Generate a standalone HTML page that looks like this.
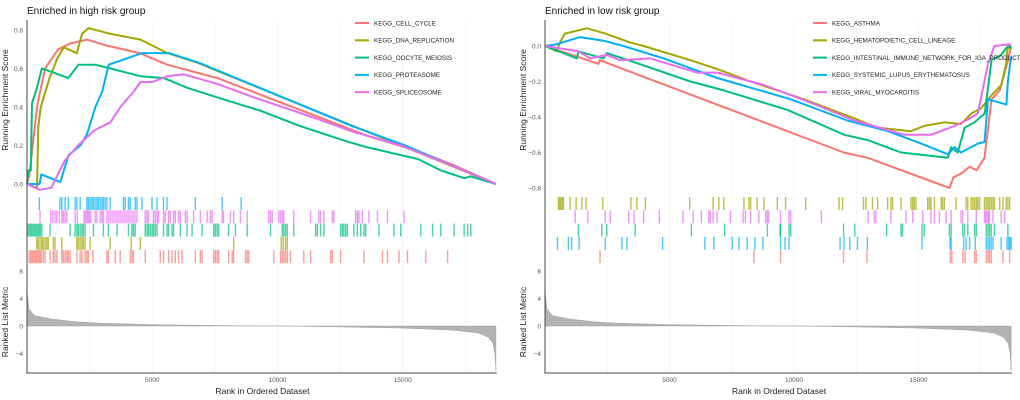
<!DOCTYPE html>
<html><head><meta charset="utf-8"><style>
html,body{margin:0;padding:0;background:#fff;}
svg{display:block;font-family:"Liberation Sans",sans-serif;}
</style></head><body>
<svg id="chart" width="1020" height="400" viewBox="0 0 1020 400" xmlns="http://www.w3.org/2000/svg"></svg>
<script>
// ---------- data (ranks in thousands) ----------
const leftNames = ["KEGG_CELL_CYCLE","KEGG_DNA_REPLICATION","KEGG_OOCYTE_MEIOSIS","KEGG_PROTEASOME","KEGG_SPLICEOSOME"];
const rightNames = ["KEGG_ASTHMA","KEGG_HEMATOPOIETIC_CELL_LINEAGE","KEGG_INTESTINAL_IMMUNE_NETWORK_FOR_IGA_PRODUCTION","KEGG_SYSTEMIC_LUPUS_ERYTHEMATOSUS","KEGG_VIRAL_MYOCARDITIS"];
const seriesColors = ["#F8766D","#A3A500","#00BF7D","#00B0F6","#E76BF3"];

const L_cell = [[0,0],[0.1,0.05],[0.4,0.4],[0.72,0.6],[1.25,0.7],[1.72,0.73],[2.4,0.75],[3.15,0.72],[4.5,0.68],[5.6,0.62],[7.6,0.55],[9.6,0.45],[11.6,0.35],[13.6,0.25],[15.6,0.17],[17,0.1],[18.72,0]];
const L_dna = [[0,0],[0.4,-0.02],[0.45,0.3],[0.55,0.4],[0.9,0.55],[1.2,0.65],[1.47,0.71],[1.99,0.68],[2.2,0.78],[2.45,0.81],[3.33,0.78],[4.53,0.75],[4.99,0.72],[5.6,0.68],[6.8,0.63],[18.72,0]];
const L_oocyte = [[0,0],[0.05,0.07],[0.15,0.07],[0.2,0.42],[0.4,0.5],[0.59,0.6],[1.05,0.58],[1.65,0.55],[2.05,0.62],[2.72,0.62],[3.33,0.6],[4.53,0.56],[5.46,0.55],[6.4,0.5],[7.6,0.45],[9.33,0.38],[10.93,0.3],[12.8,0.22],[13.6,0.19],[15.6,0.13],[16.53,0.07],[17.46,0.03],[17.7,0.04],[18.72,0]];
const L_prot = [[0,0],[0.5,0],[0.57,0.05],[1.33,0.01],[1.66,0.15],[2.13,0.2],[2.4,0.26],[2.73,0.4],[3.0,0.48],[3.26,0.62],[3.93,0.65],[4.6,0.68],[5.66,0.68],[6.86,0.63],[13,0.3],[15.1,0.2],[18.72,0]];
const L_splice = [[0,0],[0.5,-0.03],[0.97,-0.02],[1.5,0.12],[2.03,0.2],[2.7,0.28],[3.33,0.32],[3.73,0.4],[4.26,0.48],[4.53,0.53],[5.0,0.53],[5.6,0.56],[6.26,0.57],[7.6,0.52],[9.06,0.45],[11.33,0.35],[13.06,0.27],[14.93,0.2],[16.9,0.1],[18.72,0]];

const R_asthma = [[0,0],[2.15,-0.1],[2.2,-0.08],[12.0,-0.6],[12.96,-0.63],[16.25,-0.8],[16.4,-0.74],[16.7,-0.72],[17.06,-0.68],[17.33,-0.7],[17.65,-0.63],[17.72,-0.55],[17.93,-0.3],[18.26,-0.25],[18.6,-0.08],[18.72,0]];
const R_hemato = [[0,0],[0.47,-0.03],[0.6,0.02],[0.8,0.07],[1.68,0.1],[2.42,0.07],[3.42,0.02],[3.96,0],[5.84,-0.08],[6.92,-0.13],[8.26,-0.2],[10.4,-0.3],[12.29,-0.4],[13.36,-0.46],[14.7,-0.48],[15.23,-0.45],[16.05,-0.43],[16.71,-0.44],[17.12,-0.38],[17.52,-0.35],[17.92,-0.28],[18.33,-0.22],[18.52,-0.1],[18.59,0],[18.72,-0.02]];
const R_intest = [[0,0],[1.28,-0.07],[1.34,-0.03],[2.35,-0.07],[2.48,-0.04],[3.56,-0.09],[5.84,-0.2],[7.18,-0.25],[9.74,-0.36],[12.02,-0.5],[12.96,-0.53],[14.3,-0.6],[16.18,-0.63],[16.31,-0.57],[16.58,-0.6],[16.85,-0.46],[17.25,-0.43],[17.66,-0.38],[17.93,-0.08],[18.32,-0.05],[18.59,0],[18.72,-0.01]];
const R_sle = [[0,0],[0.47,0.01],[1.41,0.05],[2.35,0.03],[3.15,0],[4.77,-0.07],[6.92,-0.18],[9.87,-0.3],[12.15,-0.42],[13.77,-0.48],[15.11,-0.55],[16.18,-0.61],[16.45,-0.57],[16.71,-0.6],[17.38,-0.55],[17.65,-0.54],[17.79,-0.3],[18.53,-0.33],[18.59,-0.2],[18.72,-0.06]];
const R_viral = [[0,0],[1.34,-0.03],[1.81,-0.07],[2.48,-0.05],[3.02,-0.08],[4.23,-0.07],[6.11,-0.15],[6.92,-0.15],[8.8,-0.22],[10.68,-0.32],[12.42,-0.42],[14.43,-0.5],[15.5,-0.5],[16.45,-0.45],[16.91,-0.42],[17.38,-0.38],[17.79,-0.1],[17.92,-0.05],[18.05,0],[18.65,0.01],[18.72,0]];

// rug (hit) positions, ranks in thousands
const LR_cell = [0.09,0.15,0.2,0.25,0.31,0.36,0.41,0.47,0.52,0.57,0.65,0.72,0.92,1.05,1.12,1.19,1.39,1.45,1.52,1.59,1.65,1.72,1.99,2.12,2.19,2.32,2.39,2.45,2.63,3.19,3.25,3.52,3.72,4.12,4.19,4.25,4.72,5.32,5.45,5.65,5.79,5.92,6.05,6.19,6.72,6.92,6.99,7.45,7.52,7.59,7.65,8.05,8.19,8.25,8.72,8.79,8.85,9.85,10.12,10.19,10.25,10.32,10.39,10.52,11.05,11.32,12.12,12.19,12.52,13.45,14.19,14.39,14.85,15.19,15.92,16.79];
const LR_dna = [0.39,0.45,0.52,0.59,0.65,0.72,0.79,0.85,1.05,1.12,1.39,1.99,2.05,2.12,2.19,2.25,2.32,2.52,3.32,4.16,4.52,8.25,10.15,10.23,10.32,10.39];
const LR_oocyte = [0.05,0.11,0.16,0.21,0.27,0.32,0.37,0.43,0.48,0.53,0.59,0.92,1.72,1.92,1.99,2.05,2.12,2.19,2.25,2.32,2.65,3.05,3.25,3.59,4.05,4.19,4.25,4.32,4.72,4.79,4.85,4.92,4.99,5.05,5.12,5.19,5.45,5.59,5.65,5.79,5.85,6.12,6.39,6.59,6.99,7.45,7.52,7.59,7.65,8.05,8.32,8.79,9.72,10.19,10.25,10.32,10.39,10.65,11.52,11.59,11.72,11.85,12.52,12.59,12.65,12.72,12.79,13.05,13.19,13.32,13.45,13.52,14.05,14.65,14.92,15.72,16.19,16.52,17.05,17.45,17.59,17.72];
const LR_prot = [0.49,1.32,1.39,1.52,1.65,1.92,1.99,2.12,2.39,2.45,2.52,2.59,2.65,2.72,2.79,2.85,2.92,2.99,3.05,3.12,3.19,3.32,3.85,3.92,4.05,4.12,4.32,4.39,4.59,4.99,5.19,5.45,5.59,6.72,7.79,8.55];
const LR_splice = [0.52,0.95,1.03,1.12,1.19,1.29,1.39,1.45,1.52,1.59,1.92,2.01,2.28,2.33,2.39,2.44,2.49,2.55,2.72,2.79,2.92,2.99,3.05,3.19,3.27,3.35,3.43,3.51,3.59,3.67,3.75,3.83,3.91,3.99,4.07,4.15,4.23,4.31,4.39,4.72,4.79,4.85,5.05,5.12,5.19,5.25,5.45,5.52,5.65,5.72,5.85,5.92,6.05,6.12,6.32,6.39,6.65,6.92,7.19,7.32,7.39,7.79,7.85,8.12,8.25,8.52,8.79,9.65,9.72,9.79,10.05,10.12,10.19,10.25,10.65,11.32,11.65,11.72,11.85,12.19,12.25,13.12,13.19,13.25,13.39,13.65,13.99,14.39,15.05];

const RR_asthma = [2.21,8.39,9.46,11.99,12.93,16.28,16.34,16.78,16.87,17.25,17.32,17.72,17.79,17.85,17.92,18.39,18.66];
const RR_hemato = [0.54,0.59,0.64,0.7,0.74,1.01,1.25,1.48,1.65,2.32,3.45,3.69,4.03,5.81,6.75,6.98,7.18,7.99,8.19,8.26,8.52,8.79,9.33,9.66,10.47,11.81,11.95,12.79,12.89,13.15,13.36,13.76,13.89,13.96,14.3,14.7,14.77,14.83,14.9,15.37,15.44,15.5,15.64,15.91,15.97,16.04,16.51,16.91,16.98,17.11,17.18,17.25,17.32,17.38,17.45,17.65,17.72,17.79,17.85,17.92,17.99,18.05,18.26,18.39,18.52,18.59,18.66];
const RR_intest = [1.34,2.28,2.48,3.62,5.88,7.21,8.93,9.44,9.46,9.8,9.87,11.99,12.44,13.72,14.3,14.36,15.14,15.23,16.24,16.31,16.78,16.85,16.98,17.25,17.32,17.72,17.79,17.85,17.92,18.05,18.59];
const RR_sle = [0.5,0.94,1.07,1.37,2.42,3.09,3.29,4.72,6.42,6.78,7.52,7.79,8.12,8.43,8.75,9.46,9.64,9.8,11.85,12.01,12.24,12.55,12.95,15.14,16.27,16.31,16.81,16.91,17.05,17.28,17.72,17.79,17.85,17.92,17.99,18.32,18.56,18.62,18.67,18.72];
const RR_viral = [1.21,1.72,2.42,2.62,3.36,3.58,3.96,4.59,5.54,5.95,6.28,6.58,6.64,6.75,6.91,7.45,7.96,8.05,8.26,8.59,8.86,8.93,8.99,9.46,9.8,9.87,11.1,12.98,13.22,13.29,13.89,14.5,14.77,15.17,15.5,15.64,15.84,16.11,16.31,16.71,16.78,16.98,17.32,17.65,17.7,17.76,17.81,17.85,17.99,18.32,18.46];

// ranked list metric
const metricRanks = [0,0.02,0.08,0.3,1,2,3,5,8,10,12,15,17,18,18.4,18.6,18.68,18.72];
const metricValues = [0,4.5,2.5,1.5,1.0,0.6,0.4,0.2,0.05,0,-0.1,-0.3,-0.6,-1.0,-1.6,-2.5,-4,-6.5];

const xTicks = [5,10,15];
const xTickLabels = ["5000","10000","15000"];
const xGrid = [2.5,5,7.5,10,12.5,15,17.5];
const leftESTicks = [0,0.2,0.4,0.6,0.8];
const leftESLabels = ["0.0","0.2","0.4","0.6","0.8"];
const rightESTicks = [0,-0.2,-0.4,-0.6,-0.8];
const rightESLabels = ["0.0","\u22120.2","\u22120.4","\u22120.6","\u22120.8"];
const metricTicks = [8,4,0,-4];
const metricLabels = ["8","4","0","\u22124"];

// ---------- drawing ----------
const svg = document.getElementById('chart');
const NS = 'http://www.w3.org/2000/svg';
function mk(tag, attrs, parent){const e=document.createElementNS(NS,tag);for(const k in attrs)e.setAttribute(k,attrs[k]);(parent||svg).appendChild(e);return e;}

function panel(o){
  const g = mk('g',{});
  
  
  const xs = r => o.x0 + r*o.kx;
  const ys = v => o.es0 + -v*o.esk;
  const ym = v => 326 - v*6.9;
  xGrid.forEach(r=>{
    const l = mk('line',{x1:xs(r),x2:xs(r),y1:20,y2:373,stroke:'#e6e6e6','stroke-width':0.7,'stroke-dasharray':'2,2'},g);
    
    
  });
  const t = mk('text',{x:o.x0,y:14,'font-size':10,fill:'#111'},g); t.textContent=o.title;
  
  
  const yt = mk('text',{x:0,y:0,'font-size':8.5,fill:'#222','text-anchor':'middle',transform:`translate(${o.x0-19},${100}) rotate(-90)`},g); yt.textContent='Running Enrichment Score';
  
  
  const yt2 = mk('text',{x:0,y:0,'font-size':8.5,fill:'#222','text-anchor':'middle',transform:`translate(${o.x0-19},${322}) rotate(-90)`},g); yt2.textContent='Ranked List Metric';
  
  
  o.esTicks.forEach((v,i)=>{
    const tx = mk('text',{x:o.x0-4,y:ys(v)+2.5,'font-size':6.5,fill:'#555','text-anchor':'end'},g); tx.textContent=o.esLabels[i];
    
    
  });
  metricTicks.forEach((v,i)=>{
    const tx = mk('text',{x:o.x0-4,y:ym(v)+2.5,'font-size':6.5,fill:'#555','text-anchor':'end'},g); tx.textContent=metricLabels[i];
    
    
  });
  let d = `M${xs(metricRanks[0])},${ym(0)}`;
  metricRanks.forEach((r,i)=>{ d += ` L${xs(r)},${ym(metricValues[i])}`; });
  d += ` L${xs(metricRanks[metricRanks.length-1])},${ym(0)} Z`;
  const area = mk('path',{d:d,fill:'#b3b3b3',stroke:'#a0a0a0','stroke-width':0.5},g);
  
  
  o.rugs.forEach((arr,ri)=>{
    const row = o.rugOrder[ri];
    const y = 197 + row*13.3;
    arr.forEach(r=>{
      const b = mk('rect',{x:xs(r)-0.7,y:y,width:1.4,height:13,fill:seriesColors[ri],opacity:0.7},g);
      
      
    });
  });
  o.curves.forEach((c,ci)=>{
    const pts = c.map(p=>`${xs(p[0]).toFixed(1)},${ys(p[1]).toFixed(1)}`).join(' ');
    const pl = mk('polyline',{points:pts,fill:'none',stroke:seriesColors[ci],'stroke-width':2,'stroke-linejoin':'round'},g);
    
    
  });
  const ax = mk('path',{d:`M${o.x0},20 L${o.x0},373 L${xs(18.75)},373`,fill:'none',stroke:'#444','stroke-width':1},g);
  
  
  xTicks.forEach((r,i)=>{
    const tx = mk('text',{x:xs(r),y:382,'font-size':6.5,fill:'#555','text-anchor':'middle'},g); tx.textContent=xTickLabels[i];
    
    
  });
  const xt = mk('text',{x:xs(9.4),y:394,'font-size':8.5,fill:'#222','text-anchor':'middle'},g); xt.textContent='Rank in Ordered Dataset';
  
  
  o.names.forEach((n,i)=>{
    const y = 23 + i*17.3;
    const lg = mk('g',{},g);
    
    
    mk('line',{x1:o.legX,x2:o.legX+14,y1:y,y2:y,stroke:seriesColors[i],'stroke-width':2},lg);
    const tx = mk('text',{x:o.legX+19,y:y+2.3,'font-size':6.3,fill:'#222'},lg); tx.textContent=n;
  });
}

panel({name:'high-risk-panel',title:'Enriched in high risk group',x0:27,kx:25.05,es0:184,esk:192.5,
  esTicks:leftESTicks,esLabels:leftESLabels,names:leftNames,legX:355,
  curves:[L_cell,L_dna,L_oocyte,L_prot,L_splice],
  rugs:[LR_cell,LR_dna,LR_oocyte,LR_prot,LR_splice],rugOrder:[4,3,2,0,1]});
panel({name:'low-risk-panel',title:'Enriched in low risk group',x0:545,kx:24.9,es0:46,esk:177.5,
  esTicks:rightESTicks,esLabels:rightESLabels,names:rightNames,legX:813,
  curves:[R_asthma,R_hemato,R_intest,R_sle,R_viral],
  rugs:[RR_asthma,RR_hemato,RR_intest,RR_sle,RR_viral],rugOrder:[4,0,2,3,1]});
</script>
</body></html>
